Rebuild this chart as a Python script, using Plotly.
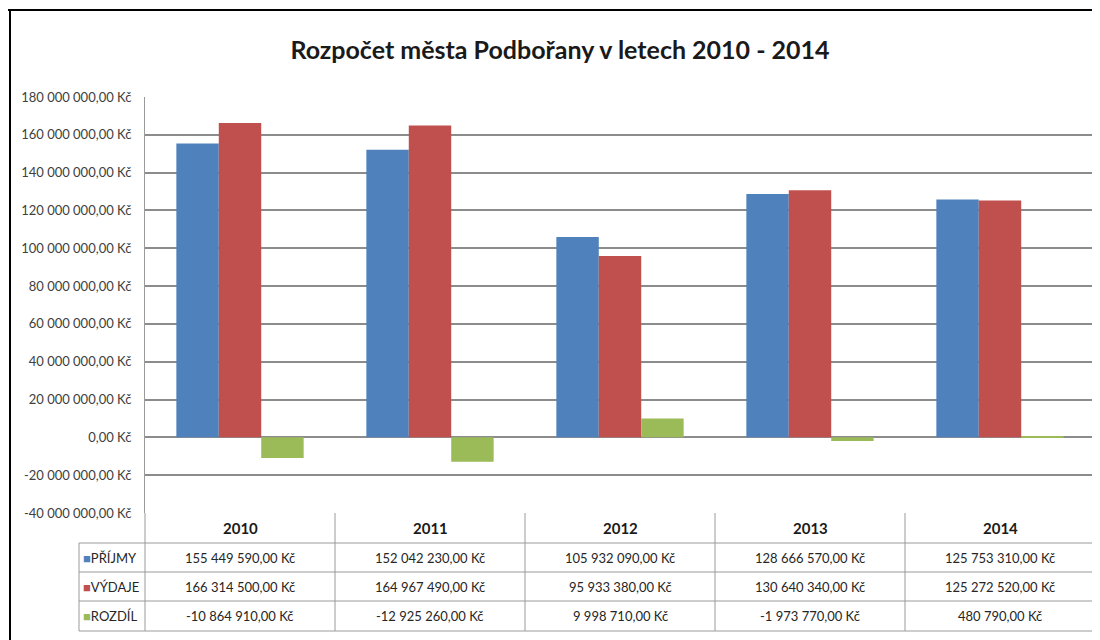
import plotly.graph_objects as go

years = ["2010", "2011", "2012", "2013", "2014"]
prijmy = [155449590.00, 152042230.00, 105932090.00, 128666570.00, 125753310.00]
vydaje = [166314500.00, 164967490.00, 95933380.00, 130640340.00, 125272520.00]
rozdil = [-10864910.00, -12925260.00, 9998710.00, -1973770.00, 480790.00]
series_names = ["PŘÍJMY", "VÝDAJE", "ROZDÍL"]
series_colors = ["#4F81BD", "#C0504D", "#9BBB59"]
y_ticks = [-40e6, -20e6, 0, 20e6, 40e6, 60e6, 80e6, 100e6, 120e6, 140e6, 160e6, 180e6]

# the page puts the figure 8px in from the top-left corner
OFF = 8
W, H = 1100 - OFF, 640 - OFF
L, T = 145 - OFF, 97 - OFF
R = W - (1095 - OFF)
B = H - (513 - OFF)
PW, PH = W - L - R, H - T - B


def kc(v):
    s = f"{v:,.2f}".replace(",", " ").replace(".", ",")
    return s + " Kč"


# screen pixel -> paper coordinates
def px(x):
    return (x - OFF - L) / PW


def py(y):
    return (H - B - (y - OFF)) / PH


fig = go.Figure()
for name, vals, col in zip(series_names, [prijmy, vydaje, rozdil], series_colors):
    fig.add_trace(go.Bar(x=years, y=vals, name=name, marker=dict(color=col, line=dict(width=0))))

shapes = []
annotations = []
grid = "#8C8C8C"
tline = "#9A9A9A"

# data table under the plot
row_y = [513, 543, 572, 601, 631]
col_x = [145 + i * 950 / len(years) for i in range(len(years) + 1)]
for x in col_x:
    shapes.append(dict(type="line", xref="paper", yref="paper", x0=px(x), x1=px(x),
                       y0=py(row_y[0]), y1=py(row_y[-1]), line=dict(color=tline, width=1)))
shapes.append(dict(type="line", xref="paper", yref="paper", x0=px(79), x1=px(79),
                   y0=py(row_y[1]), y1=py(row_y[-1]), line=dict(color=tline, width=1)))
for y in row_y[1:]:
    shapes.append(dict(type="line", xref="paper", yref="paper", x0=px(79), x1=px(col_x[-1]),
                       y0=py(y), y1=py(y), line=dict(color=tline, width=1)))

for i, yr in enumerate(years):
    cx = (col_x[i] + col_x[i + 1]) / 2
    annotations.append(dict(text="<b>" + yr + "</b>", xref="paper", yref="paper", x=px(cx), xanchor="center",
                            y=py((row_y[0] + row_y[1]) / 2), yanchor="middle", showarrow=False,
                            font=dict(size=15, color="#1a1a1a", family="Lato")))
    for r, vals in enumerate([prijmy, vydaje, rozdil]):
        annotations.append(dict(text=kc(vals[i]), xref="paper", yref="paper", x=px(cx), xanchor="center",
                                y=py((row_y[r + 1] + row_y[r + 2]) / 2), yanchor="middle", showarrow=False,
                                font=dict(size=13, color="#262626", family="Lato")))

for r, (name, col) in enumerate(zip(series_names, series_colors)):
    annotations.append(dict(text=f'<span style="color:{col}">■</span>{name}', xref="paper", yref="paper",
                            x=px(81), xanchor="left", y=py((row_y[r + 1] + row_y[r + 2]) / 2),
                            yanchor="middle", showarrow=False,
                            font=dict(size=13, color="#262626", family="Lato")))

# outer frame
shapes.append(dict(type="line", xref="paper", yref="paper", x0=px(0), x1=px(1100), y0=py(10), y1=py(10),
                   line=dict(color="black", width=2)))
shapes.append(dict(type="line", xref="paper", yref="paper", x0=px(10), x1=px(10), y0=py(10), y1=py(640),
                   line=dict(color="black", width=2)))

fig.update_layout(
    width=W, height=H,
    margin=dict(l=L, r=R, t=T, b=B),
    paper_bgcolor="white", plot_bgcolor="white",
    title=dict(text="<b>Rozpočet města Podbořany v letech 2010 - 2014</b>", xref="container",
               x=(560 - OFF) / W, xanchor="center", yref="container", y=1 - (50 - OFF) / H,
               yanchor="middle", font=dict(size=25, color="#1a1a1a", family="Lato")),
    barmode="group", bargap=0.33, bargroupgap=0,
    showlegend=False,
    xaxis=dict(showticklabels=False, showgrid=False, zeroline=False, showline=False, fixedrange=True),
    yaxis=dict(range=[y_ticks[0], y_ticks[-1]], tickvals=y_ticks, ticktext=[kc(v) for v in y_ticks],
               showgrid=True, gridcolor=grid, gridwidth=1.5, zeroline=True, zerolinecolor=grid,
               zerolinewidth=1.5, showline=True, linecolor=tline, linewidth=1, ticks="",
               ticklabelstandoff=10, tickfont=dict(size=13, color="#404040", family="Lato")),
    shapes=shapes,
    annotations=annotations,
    font=dict(family="Lato"),
)

fig.write_html("out.html")
